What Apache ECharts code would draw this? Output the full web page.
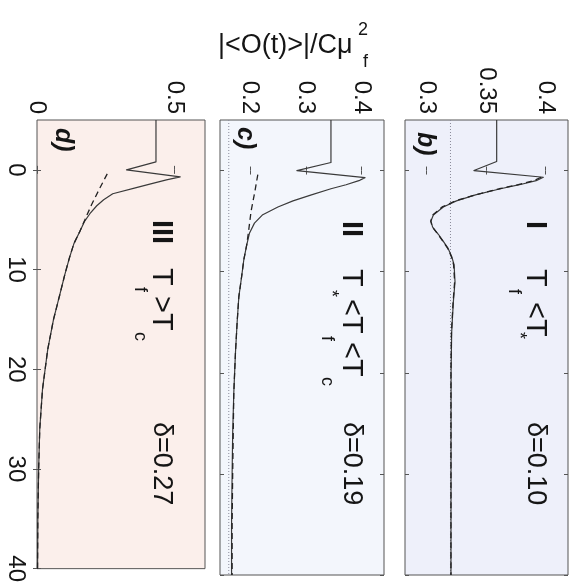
<!DOCTYPE html>
<html>
<head>
<meta charset="utf-8">
<script src="https://cdn.jsdelivr.net/npm/echarts@6/dist/echarts.min.js"></script>
<style>
  html, body { margin: 0; padding: 0; background: #ffffff; }
  #chart { width: 578px; height: 585px; }
</style>
</head>
<body>
<div id="chart"></div>
<script>
// Time runs downward; values run left to right in three side-by-side panels.
const timeTicks = [0, 10, 20, 30, 40];
const timeLabels = ['0', '10', '20', '30', '40'];

// Panel d)  III  δ=0.27
const ticksD = [0, 0.5];
const labelsD = ['0', '0.5'];
const timeD = [-5, -0.8, 0, 0.7, 1.0, 1.4, 1.8, 2.4, 3.0, 3.6, 4.4, 5.2, 6.2, 7.4, 8.8, 10.5, 12.5, 15, 18, 22, 26, 30, 35, 40];
const solidD = [0.432, 0.432, 0.325, 0.52, 0.47, 0.413, 0.357, 0.275, 0.242, 0.217, 0.192, 0.172, 0.155, 0.134, 0.118, 0.101, 0.083, 0.060, 0.039, 0.020, 0.010, 0.006, 0.003, 0.002];
const timeDashD = [0.4, 2.0, 3.5, 5.0, 6.2, 7.4, 8.8, 10.5, 12.5, 15, 18, 22, 26, 30, 35, 40];
const dashD = [0.255, 0.225, 0.198, 0.174, 0.155, 0.134, 0.118, 0.101, 0.083, 0.060, 0.039, 0.020, 0.010, 0.006, 0.003, 0.002];

// Panel c)  II  δ=0.19
const ticksC = [0.2, 0.3, 0.4];
const labelsC = ['0.2', '0.3', '0.4'];
const timeC = [-5, -0.8, 0, 0.7, 1.0, 1.4, 1.8, 2.4, 3.0, 3.6, 4.4, 5.2, 6.2, 7.4, 8.8, 10.5, 12.5, 15, 18, 22, 26, 30, 35, 40];
const solidC = [0.345, 0.345, 0.284, 0.406, 0.395, 0.372, 0.345, 0.310, 0.277, 0.250, 0.222, 0.208, 0.199, 0.194, 0.189, 0.185, 0.180, 0.177, 0.174, 0.171, 0.169, 0.168, 0.167, 0.167];
const timeDashC = [0.4, 2, 4, 6.2, 7.4, 8.8, 10.5, 12.5, 15, 18, 22, 26, 30, 35, 40];
const dashC = [0.214, 0.209, 0.202, 0.197, 0.194, 0.189, 0.185, 0.180, 0.177, 0.174, 0.171, 0.170, 0.169, 0.168, 0.168];
const dotLevelC = 0.162;

// Panel b)  I  δ=0.10
const ticksB = [0.3, 0.35, 0.4];
const labelsB = ['0.3', '0.35', '0.4'];
const timeB = [-5, -0.9, 0, 0.66, 1.0, 1.4, 1.8, 2.4, 3.0, 3.6, 4.4, 5.0, 5.6, 6.3, 7.0, 7.7, 8.5, 9.3, 11, 13, 16, 20, 40];
const solidB = [0.3588, 0.3588, 0.3397, 0.398, 0.392, 0.378, 0.362, 0.341, 0.325, 0.314, 0.3056, 0.3036, 0.305, 0.3098, 0.314, 0.318, 0.321, 0.323, 0.3238, 0.3224, 0.321, 0.3205, 0.3204];
const timeDashB = [0.66, 1.0, 1.4, 1.8, 2.4, 3.0, 3.6, 4.4, 5.0, 5.6, 6.3, 7.0, 7.7, 8.5, 9.3, 11, 13, 16, 20, 40];
const dashB = [0.396, 0.390, 0.377, 0.361, 0.341, 0.324, 0.313, 0.305, 0.3034, 0.3048, 0.3094, 0.3137, 0.3177, 0.3207, 0.3226, 0.3235, 0.3222, 0.3208, 0.3204, 0.3204];
const dotLevelB = 0.32;

const FONT = 'Liberation Sans, Arial, Helvetica, sans-serif';
const INK = '#151515';
const TIME_MIN = -5, TIME_MAX = 40;

const panels = [
  { left: 37, width: 168, min: 0, max: 0.61, ticks: ticksD, labels: labelsD, bg: '#fbefeb',
    t: timeD, v: solidD, td: timeDashD, vd: dashD, dot: null },
  { left: 220, width: 164, min: 0.1463, max: 0.440, ticks: ticksC, labels: labelsC, bg: '#f3f6fc',
    t: timeC, v: solidC, td: timeDashC, vd: dashC, dot: dotLevelC },
  { left: 405, width: 163, min: 0.2818, max: 0.4187, ticks: ticksB, labels: labelsB, bg: '#eef0fa',
    t: timeB, v: solidB, td: timeDashB, vd: dashB, dot: dotLevelB }
];

function pick(ticks, labels) {
  return function (v) {
    const k = ticks.findIndex(function (t) { return Math.abs(t - v) < 1e-9; });
    return k >= 0 ? labels[k] : '';
  };
}

const grid = [], xAxis = [], yAxis = [], series = [];
const tickStyle = { color: '#555', width: 1 };

panels.forEach(function (p, i) {
  grid.push({
    left: p.left, top: 120, width: p.width, height: 455,
    show: true, backgroundColor: p.bg, borderColor: '#555', borderWidth: 1
  });
  // value axes: labelled on top, mirrored ticks at the bottom
  xAxis.push({
    gridIndex: i, type: 'value', position: 'top', min: p.min, max: p.max,
    axisLine: { show: false }, splitLine: { show: false },
    axisTick: { inside: true, length: 4, customValues: p.ticks, lineStyle: tickStyle },
    axisLabel: {
      customValues: p.ticks, rotate: -90, margin: 6, formatter: pick(p.ticks, p.labels),
      fontFamily: FONT, fontSize: 24, color: INK
    }
  });
  xAxis.push({
    gridIndex: i, type: 'value', position: 'bottom', min: p.min, max: p.max,
    axisLine: { show: false }, splitLine: { show: false },
    axisTick: { inside: true, length: 4, customValues: p.ticks, lineStyle: tickStyle },
    axisLabel: { show: false }
  });
  // time axes: labelled on the left of the first panel only
  yAxis.push({
    gridIndex: i, type: 'value', position: 'left', inverse: true, min: TIME_MIN, max: TIME_MAX,
    axisLine: { show: false }, splitLine: { show: false },
    axisTick: { inside: true, length: 4, customValues: timeTicks, lineStyle: tickStyle },
    axisLabel: {
      show: i === 0, customValues: timeTicks, rotate: -90, margin: 9,
      formatter: pick(timeTicks, timeLabels),
      fontFamily: FONT, fontSize: 24, color: INK
    }
  });
  yAxis.push({
    gridIndex: i, type: 'value', position: 'right', inverse: true, min: TIME_MIN, max: TIME_MAX,
    axisLine: { show: false }, splitLine: { show: false },
    axisTick: { inside: true, length: 4, customValues: timeTicks, lineStyle: tickStyle },
    axisLabel: { show: false }
  });

  const xi = 2 * i, yi = 2 * i;
  if (p.dot !== null) {
    series.push({
      type: 'line', xAxisIndex: xi, yAxisIndex: yi, symbol: 'none', silent: true,
      data: [[p.dot, TIME_MIN], [p.dot, TIME_MAX]],
      lineStyle: { color: '#8a8a9a', width: 1, type: [1, 2] }, z: 1
    });
  }
  series.push({
    type: 'line', xAxisIndex: xi, yAxisIndex: yi, symbol: 'none', silent: true,
    data: p.t.map(function (t, k) { return [p.v[k], t]; }),
    lineStyle: { color: '#3a3a3a', width: 1.2, join: 'round' }, z: 2
  });
  series.push({
    type: 'line', xAxisIndex: xi, yAxisIndex: yi, symbol: 'none', silent: true,
    data: p.td.map(function (t, k) { return [p.vd[k], t]; }),
    lineStyle: { color: '#222', width: 1.3, type: [6, 4] }, z: 3
  });
});

// Text turned a quarter turn clockwise, centred on x and starting at y.
function turned(x, y, text, size, extra) {
  return {
    type: 'text', x: x, y: y, rotation: -Math.PI / 2, silent: true, z: 10,
    style: Object.assign({
      text: text, x: 0, y: 0, align: 'left', verticalAlign: 'middle',
      fontFamily: FONT, fontSize: size, fill: INK
    }, extra || {})
  };
}

function plain(x, y, text, size) {
  return {
    type: 'text', x: x, y: y, silent: true, z: 10,
    style: { text: text, x: 0, y: 0, align: 'left', verticalAlign: 'middle',
             fontFamily: FONT, fontSize: size, fill: INK }
  };
}

const BIG = 29, SUB = 18, NOTE = 27;
const tag = { fontStyle: 'italic', fontWeight: 'bold' };
const bold = { fontWeight: 'bold' };

const graphic = [
  // shared value-axis title
  plain(218, 46, '|<O(t)>|/Cμ', 27),
  plain(358, 30, '2', SUB),
  plain(363, 62, 'f', SUB),

  // panel tags
  turned(63, 128, 'd)', 25, tag),
  turned(245, 127, 'c)', 25, tag),
  turned(425, 132, 'b)', 25, tag),

  // panel d): III  T_f > T_c  δ=0.27
  turned(161, 220, 'III', BIG, bold),
  turned(161, 268, 'T', BIG),
  turned(140, 287, 'f', SUB),
  turned(161, 296, '>T', BIG),
  turned(140, 332, 'c', SUB),
  turned(161, 422, 'δ=0.27', NOTE),

  // panel c): II  T_* < T_f < T_c  δ=0.19
  turned(351, 221, 'II', BIG, bold),
  turned(351, 269, 'T', BIG),
  turned(331, 290, '*', SUB),
  turned(351, 299, '<T', BIG),
  turned(327, 336, 'f', SUB),
  turned(351, 342, '<T', BIG),
  turned(327, 377, 'c', SUB),
  turned(351, 422, 'δ=0.19', NOTE),

  // panel b): I  T_f < T_*  δ=0.10
  turned(535, 221, 'I', BIG, bold),
  turned(535, 269, 'T', BIG),
  turned(514, 289, 'f', SUB),
  turned(535, 302, '<T', BIG),
  turned(519, 332, '*', SUB),
  turned(535, 422, 'δ=0.10', NOTE)
];

const chart = echarts.init(document.getElementById('chart'), null, { renderer: 'canvas' });
chart.setOption({
  animation: false,
  backgroundColor: '#ffffff',
  grid: grid,
  xAxis: xAxis,
  yAxis: yAxis,
  series: series,
  graphic: graphic
});
</script>
</body>
</html>
